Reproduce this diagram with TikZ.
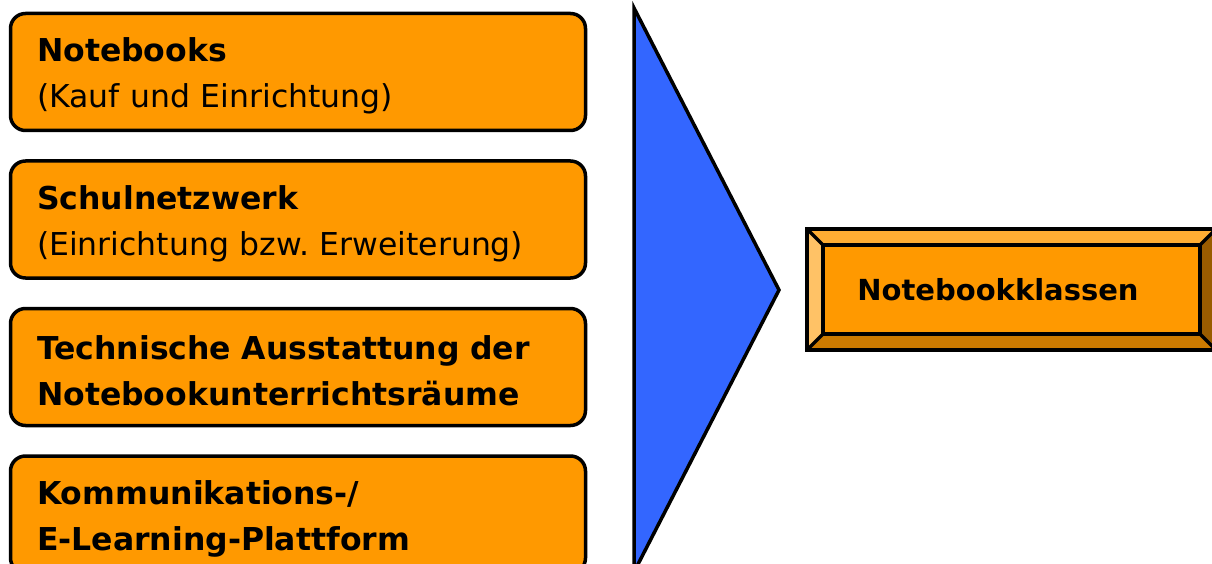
\documentclass[tikz,border=0pt]{standalone}
\usepackage{fontspec}
\setmainfont{DejaVu Sans}
\usetikzlibrary{positioning}
\frenchspacing

\definecolor{kastenorange}{HTML}{FF9900}
\definecolor{pfeilblau}{HTML}{3366FF}
\definecolor{kanteoben}{HTML}{FFAD33}
\definecolor{kantelinks}{HTML}{FFC266}
\definecolor{kanteunten}{HTML}{CC7A00}
\definecolor{kanterechts}{HTML}{995C00}

% Zusatzhoehe fuer die erste Zeile
\newcommand{\hoch}{\rule{0pt}{32pt}}

\tikzset{
  kasten/.style={draw, line width=3.5pt, rounded corners=15pt, fill=kastenorange,
    minimum width=575pt, minimum height=117pt, text width=522pt, align=left,
    inner xsep=26.5pt, inner ysep=0pt, font=\fontsize{31.5}{46}\selectfont},
  kante/.style={draw, line width=3.5pt, line join=miter}
}

\begin{document}
\begin{tikzpicture}[x=1pt,y=-1pt]
    \useasboundingbox (0,0) rectangle (1212,564);
    % linke Spalte
    \node[kasten] (notebooks) at (298,72) {\hoch\textbf{Notebooks}\\(Kauf und Einrichtung)};
    \node[kasten, below=27pt of notebooks] (netzwerk) {\hoch\textbf{Schulnetzwerk}\\(Einrichtung bzw. Erweiterung)};
    \node[kasten, below=27pt of netzwerk] (raeume) {\hoch\textbf{Technische Ausstattung der}\\\textbf{Notebookunterrichtsräume}};
    \node[kasten, below=27pt of raeume] (plattform) {\hoch\textbf{Kommunikations-/}\\\textbf{E-Learning-Plattform}};
    % Pfeil
    \draw[kante, fill=pfeilblau] (634,8) -- (779,290) -- (634,572) -- cycle;
    % Ziel mit Kante
    \node[minimum width=409pt, minimum height=121pt, inner sep=0pt] (ziel) at (1011.5,289.5) {};
    \node[minimum width=377pt, minimum height=89pt, inner sep=0pt, fill=kastenorange] (zielinnen) at (ziel.center) {};
    \fill[kanteoben] (ziel.north west) -- (ziel.north east) -- (zielinnen.north east) -- (zielinnen.north west) -- cycle;
    \fill[kantelinks] (ziel.north west) -- (zielinnen.north west) -- (zielinnen.south west) -- (ziel.south west) -- cycle;
    \fill[kanteunten] (ziel.south west) -- (zielinnen.south west) -- (zielinnen.south east) -- (ziel.south east) -- cycle;
    \fill[kanterechts] (ziel.north east) -- (ziel.south east) -- (zielinnen.south east) -- (zielinnen.north east) -- cycle;
    \draw[kante] (ziel.north west) rectangle (ziel.south east);
    \draw[kante] (zielinnen.north west) rectangle (zielinnen.south east);
    \draw[kante] (ziel.north west) -- (zielinnen.north west)
      (ziel.north east) -- (zielinnen.north east)
      (ziel.south west) -- (zielinnen.south west)
      (ziel.south east) -- (zielinnen.south east);
    \node[font=\fontsize{29}{34}\selectfont\bfseries] (zieltext) at (998,290) {Notebookklassen};
\end{tikzpicture}
\end{document}
